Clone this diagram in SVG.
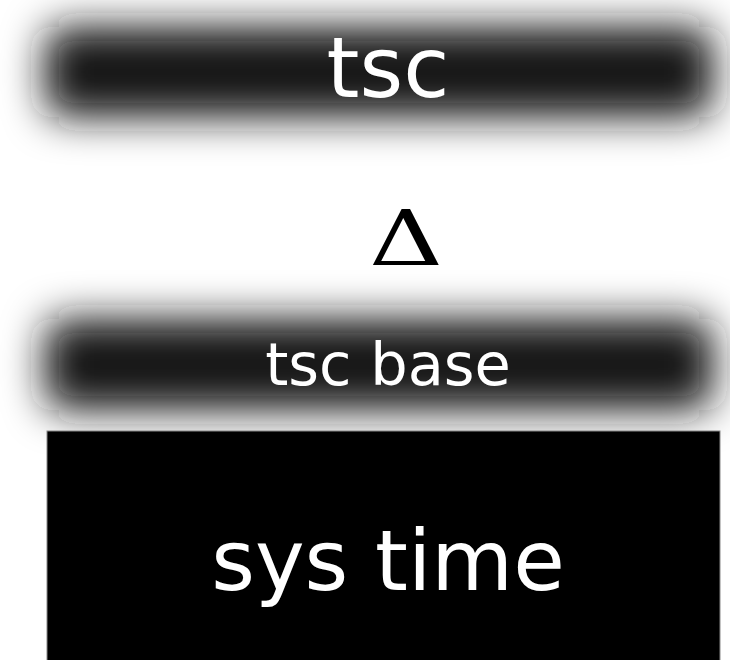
<svg xmlns="http://www.w3.org/2000/svg" width="730" height="660" viewBox="0 0 730 660">
<defs>
<filter id="blur" x="-30%" y="-150%" width="160%" height="400%">
<feGaussianBlur stdDeviation="20"/>
</filter>
<style>
.bar{fill:#141414;filter:url(#blur)}
.lbl{font-family:"DejaVu Sans",sans-serif;fill:#ffffff;text-anchor:middle}
</style>
</defs>
<rect width="730" height="660" fill="#ffffff"/>
<g id="tsc">
<rect class="bar" x="45" y="27" width="668" height="90" rx="20"/>
<text class="lbl" x="388" y="97" font-size="84">tsc</text>
</g>
<g id="delta">
<text transform="translate(406,265) scale(1.35,1)" x="0" y="0" font-family="DejaVu Serif, serif" font-size="76" text-anchor="middle" fill="#000">Δ</text>
</g>
<g id="tsc-base">
<rect class="bar" x="45" y="319" width="668" height="91" rx="20"/>
<text class="lbl" x="388" y="385" font-size="59">tsc base</text>
</g>
<g id="sys-time">
<rect x="47" y="431" width="673" height="240" fill="#000000" stroke="#888" stroke-width="1"/>
<text class="lbl" x="388" y="590" font-size="84">sys time</text>
</g>
<g id="connectors"></g>
</svg>
